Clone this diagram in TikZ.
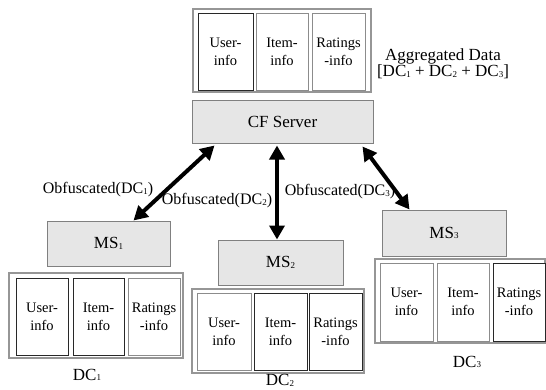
\documentclass[tikz,border=0pt]{standalone}
\usepackage{fontspec}
\setmainfont{Liberation Serif}
\usetikzlibrary{arrows.meta}
\definecolor{boxfill}{RGB}{230,230,230}
\definecolor{boxline}{RGB}{128,128,128}
\definecolor{outline}{RGB}{150,150,150}
\definecolor{lightline}{RGB}{140,140,140}
\definecolor{darkline}{RGB}{40,40,40}
\newcommand{\dsub}[1]{\raisebox{-0.4pt}{\fontsize{9}{9}\selectfont #1}}
\tikzset{
  procbox/.style={draw=boxline, line width=1pt, fill=boxfill, minimum height=45pt, inner sep=0pt,
    font=\fontsize{17}{17}\selectfont},
  outerbox/.style={draw=outline, line width=1.4pt, fill=white, inner sep=0pt},
  cellbox/.style={draw=lightline, line width=1pt, fill=white, inner sep=0pt, minimum height=77pt,
    align=center, font=\fontsize{14.5}{18}\selectfont},
  darkcell/.style={cellbox, draw=darkline},
  lbl/.style={inner sep=0pt, font=\fontsize{17}{17}\selectfont},
  obf/.style={inner sep=0pt, font=\fontsize{16}{16}\selectfont},
  biarrow/.style={line width=4pt, {Triangle[length=14pt,width=15pt]}-{Triangle[length=14pt,width=15pt]}},
}
\begin{document}
\begin{tikzpicture}[x=1pt,y=-1pt]
\useasboundingbox (0,0) rectangle (546,389);
% aggregated data
\node[outerbox, minimum width=178pt, minimum height=83pt] (agg) at (282,50.5) {};
\node[darkcell, minimum width=55pt] (agg1) at (225.5,51.5) {User-\\info};
\node[cellbox, minimum width=52pt] (agg2) at (282,51.5) {Item-\\info};
\node[cellbox, minimum width=53pt] (agg3) at (338.5,51.5) {Ratings\\-info};
\node[lbl, align=center, font=\fontsize{17}{15}\selectfont] (aggtxt) at (443,64) {Aggregated Data\\{}[DC\dsub{1} + DC\dsub{2} + DC\dsub{3}]};
% server and MS boxes
\node[procbox, minimum width=181pt, minimum height=43pt] (cf) at (282.5,121.5) {CF Server};
\node[procbox, minimum width=123pt] (ms1) at (108.5,243.5) {MS\dsub{1}};
\node[procbox, minimum width=125pt] (ms2) at (280.5,262.5) {MS\dsub{2}};
\node[procbox, minimum width=124pt, minimum height=46pt] (ms3) at (444,233) {MS\dsub{3}};
% DC1
\node[outerbox, minimum width=174pt, minimum height=85pt] (dc1) at (96,315.5) {};
\node[darkcell, minimum width=52pt] (dc1a) at (42,316.5) {User-\\info};
\node[darkcell, minimum width=51pt] (dc1b) at (98.5,316.5) {Item-\\info};
\node[cellbox, minimum width=52pt] (dc1c) at (154,316.5) {Ratings\\-info};
\node[lbl] (dc1l) at (87,375) {DC\dsub{1}};
% DC2
\node[outerbox, minimum width=172pt, minimum height=84pt] (dc2) at (278,331) {};
\node[cellbox, minimum width=54pt] (dc2a) at (224,331.5) {User-\\info};
\node[darkcell, minimum width=53pt] (dc2b) at (280.5,331.5) {Item-\\info};
\node[darkcell, minimum width=53pt] (dc2c) at (335.5,331.5) {Ratings\\-info};
\node[lbl] (dc2l) at (280,380.5) {DC\dsub{2}};
% DC3
\node[outerbox, minimum width=170pt, minimum height=84pt] (dc3) at (460,301) {};
\node[cellbox, minimum width=53pt, minimum height=78pt] (dc3a) at (406.5,302) {User-\\info};
\node[cellbox, minimum width=52pt, minimum height=78pt] (dc3b) at (463,302) {Item-\\info};
\node[darkcell, minimum width=52pt, minimum height=78pt] (dc3c) at (519,302) {Ratings\\-info};
\node[lbl] (dc3l) at (467,362) {DC\dsub{3}};
% labels
\node[obf] (o1) at (98,190) {Obfuscated(DC\dsub{1})};
\node[obf] (o2) at (217,201) {Obfuscated(DC\dsub{2})};
\node[obf] (o3) at (340,192) {Obfuscated(DC\dsub{3})};
% arrows
\draw[biarrow] ([xshift=23pt,yshift=-2pt]cf.south west) -- ([xshift=-37pt]ms1.north east);
\draw[biarrow] ([xshift=-5.5pt,yshift=-2pt]cf.south) -- ([xshift=-3.5pt]ms2.north);
\draw[biarrow] ([xshift=-11pt,yshift=-3pt]cf.south east) -- ([xshift=28pt]ms3.north west);
\end{tikzpicture}
\end{document}
